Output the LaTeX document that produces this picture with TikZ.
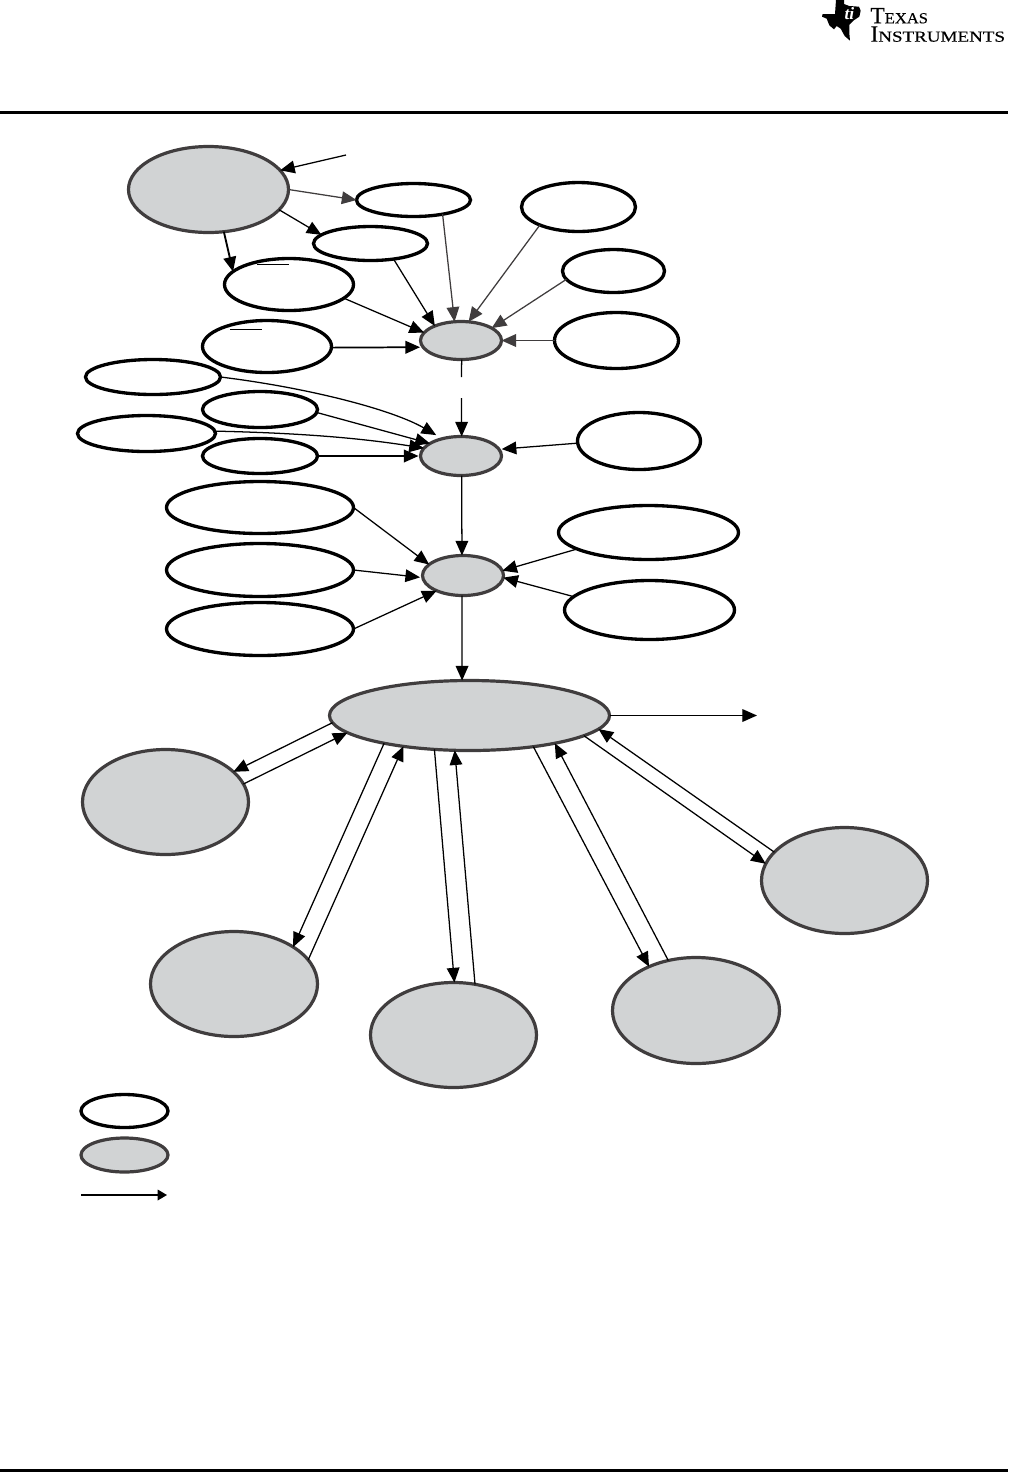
\documentclass[tikz,border=0pt]{standalone}
\usepackage{fontspec}
\setmainfont{Liberation Serif}
\newfontfamily\logocap[FakeBold=0.3]{Liberation Serif}
\newfontfamily\logosmalla[FakeStretch=1.08,FakeBold=0.3]{Liberation Serif}
\newfontfamily\logosmallb[FakeStretch=1.24,FakeBold=0.3]{Liberation Serif}
\usetikzlibrary{arrows.meta,shapes.geometric}
\definecolor{ovalgray}{HTML}{D1D3D4}
\definecolor{ovaledge}{HTML}{403D3E}
\tikzset{
  whiteoval/.style 2 args={ellipse,draw=black,line width=2.5pt,fill=white,inner sep=0pt,outer sep=0pt,
    minimum width={(#1-1)*0.75pt},minimum height={(#2-1)*0.75pt}},
  grayoval/.style 2 args={ellipse,draw=ovaledge,line width=2.4pt,fill=ovalgray,inner sep=0pt,outer sep=0pt,
    minimum width={(#1-1)*0.75pt},minimum height={(#2-1)*0.75pt}},
  link/.style={draw=black,line width=0.95pt,-{Triangle[length=11pt,width=9.5pt]}},
  darklink/.style={link,draw=ovaledge,-{Triangle[length=11pt,width=9.5pt,fill=ovaledge]}},
  stub/.style={draw=black,line width=0.95pt},
  bar/.style={draw=black,line width=0.7pt},
  rule/.style={draw=none,fill=black},
  logotext/.style={anchor=north west,align=left,inner sep=0pt,outer sep=0pt,text=black}
}
\begin{document}
\begin{tikzpicture}[x=0.75pt,y=-0.75pt]
\useasboundingbox (0,0) rectangle (1008,1472);
% header and footer rules
\fill[rule] (0,111) rectangle (1008,114);
\fill[rule] (0,1469) rectangle (1008,1472);
% logo
\begin{scope}[shift={(820,0)},x=0.25pt,y=-0.25pt]
  \fill[black] (48,0) -- (72,0) -- (72,12) -- (88,18) -- (117,20) -- (122,32) -- (118,50) -- (100,62)
    -- (88,74) -- (88,100) -- (90,122) -- (74,108) -- (62,86) -- (50,78) -- (42,88) -- (28,76)
    -- (20,56) -- (6,50) -- (8,42) -- (45,42) -- cycle;
  \node[inner sep=0pt,text=white] at (88,40) {\fontsize{13}{13}\selectfont\bfseries\itshape ti};
\end{scope}
\node[logotext] at (870.5,8) {\fontsize{17.5}{14.25}\selectfont\logocap T\fontsize{11.5}{14.25}\selectfont\logosmalla EXAS\\[1.8pt]%
  \fontsize{17.5}{14.25}\selectfont\logocap I\fontsize{11.5}{14.25}\selectfont\logosmallb NSTRUMENTS};
% nodes
\node[grayoval={161}{87}] (A) at (208.5,189.5) {};
\node[whiteoval={115}{34}] (B) at (413.5,200) {};
\node[whiteoval={115}{35}] (C) at (370.5,243.5) {};
\node[whiteoval={130}{53}] (D) at (289,284.5) {};
\node[whiteoval={130}{53}] (E) at (267,346.5) {};
\node[whiteoval={136}{36}] (F) at (153,377) {};
\node[whiteoval={116}{37}] (G) at (260,409.5) {};
\node[whiteoval={139}{37}] (H) at (146.5,433.5) {};
\node[whiteoval={116}{36}] (I) at (260,456) {};
\node[whiteoval={115}{50}] (J) at (578.5,207) {};
\node[whiteoval={103}{44}] (K) at (613.5,271) {};
\node[whiteoval={125}{57}] (L) at (616.5,340.5) {};
\node[grayoval={82}{39}] (M) at (461,340.5) {};
\node[grayoval={82}{40}] (N) at (461,456) {};
\node[whiteoval={124}{58}] (O) at (639,441) {};
\node[whiteoval={188}{53}] (P) at (260,507.5) {};
\node[whiteoval={188}{54}] (Q) at (260,570) {};
\node[whiteoval={188}{54}] (R) at (260,629) {};
\node[whiteoval={181}{55}] (S) at (648.5,532.5) {};
\node[whiteoval={171}{60}] (T) at (649.5,610) {};
\node[grayoval={82}{41}] (U) at (463,575.5) {};
\node[grayoval={281}{71}] (V) at (469.5,715.5) {};
\node[grayoval={167}{106}] (W) at (165.5,802) {};
\node[grayoval={168}{106}] (X) at (234,984) {};
\node[grayoval={167}{106}] (Y) at (453.5,1035) {};
\node[grayoval={168}{107}] (Z) at (696,1010.5) {};
\node[grayoval={167}{107}] (AA) at (844.5,880.5) {};
\node[whiteoval={88}{34}] (legW) at (124.5,1111) {};
\node[grayoval={88}{35}] (legG) at (124.5,1155) {};
% free ends
\coordinate (fA) at (346,155);
\coordinate (fM) at (461.5,377);
\coordinate (fN) at (461.5,398);
\coordinate (fV) at (757,715.5);
\coordinate (la) at (81,1195);
\coordinate (lb) at (167,1195);
% overbars inside the ovals
\coordinate (d1) at (257,264); \coordinate (d2) at (289,264);
\coordinate (e1) at (230,329); \coordinate (e2) at (262,329);
\draw[bar] (d1) -- (d2);
\draw[bar] (e1) -- (e2);
% connectors
\draw[link] (fA) -- (A.15.8);
\draw[darklink] (A.-0.4) -- (B.180);
\draw[link] (A.-16.5) -- (C.170.4);
\draw[link,line width=1.4pt] (A.-70.4) -- (D.167.6);
\draw[darklink] (B.-26.3) -- (M.109.7);
\draw[link] (C.-34.2) -- (M.151);
\draw[link] (D.-14) -- (M.168.8);
\draw[link,line width=1.3pt,shorten >=2.25pt] (E.-1.3) -- (M.190.6);
\draw[darklink] (J.-155.4) -- (M.68);
\draw[darklink] (K.-170.6) -- (M.22.9);
\draw[darklink,line width=1.3pt] (L.180) -- (M.0);
\draw[stub] (M.-88.5) -- (fM);
\draw[link] (fN) -- (N.88.5);
\draw[link] (F.0) .. controls (310,388) and (393,410) .. ([xshift=-3.5pt,yshift=3pt]N.140);
\draw[link] (G.-3.5) -- (N.158.5);
\draw[link] (H.2) .. controls (300,433) and (360,438) .. (N.168);
\draw[link,line width=1.3pt,shorten >=1.5pt] (I.0) -- (N.180);
\draw[link,shorten >=2pt] (O.182.8) -- (N.10.3);
\draw[link] (N.-88) -- (U.93.6);
\draw[link] (P.0.3) -- (U.162.7);
\draw[link,shorten >=2pt] (Q.-0.6) -- (U.183.2);
\draw[link] (R.0.6) -- (U.210.3);
\draw[link] (S.193.4) -- (U.7.6);
\draw[link] (T.170.7) -- (U.-3.4);
\draw[link] (U.-93.6) -- (V.102.4);
\draw[link] (V.0) -- (fV);
\draw[link] (V.183.1) -- (W.24);
\draw[link] (W.13.3) -- (V.188);
\draw[link] (V.198.6) -- (X.32.5);
\draw[link] (X.18.9) -- (V.205.3);
\draw[link] (V.224.2) -- (Y.89.5);
\draw[link] (Y.67.5) -- (V.247.8);
\draw[link] (V.-26) -- (Z.137.2);
\draw[link] (Z.119.4) -- (V.-18.2);
\draw[link] (V.-10.9) -- (AA.168.8);
\draw[link] (AA.158.4) -- (V.-6.4);
\draw[stub,-{Triangle[length=7pt,width=8pt]}] (la) -- (lb);
\end{tikzpicture}
\end{document}
